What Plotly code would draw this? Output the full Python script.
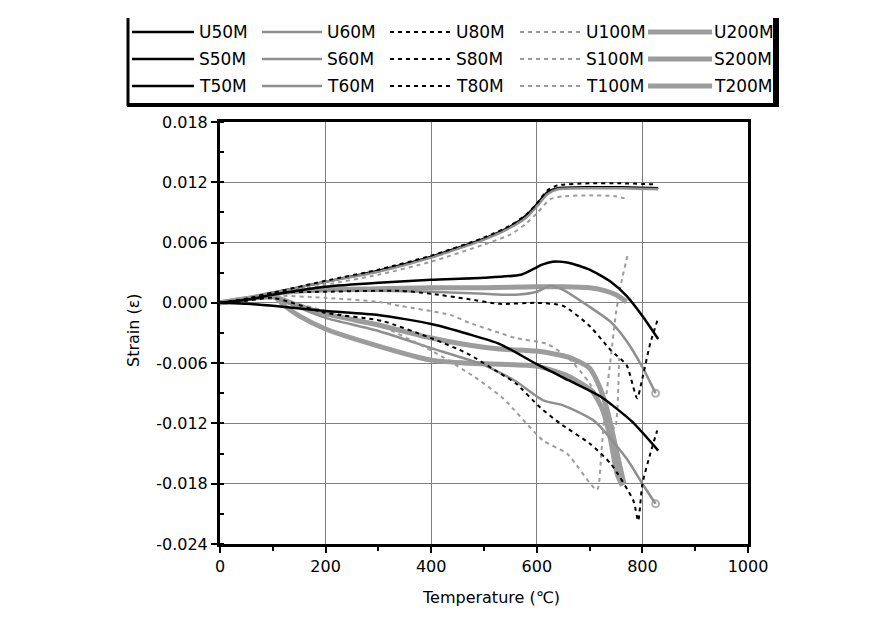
import plotly.graph_objects as go

# ---------------- data (temperature in degC, strain) ----------------
# "U" series
T_U50M = [0, 50, 100, 200, 300, 400, 500, 550, 580, 600, 620, 640, 700, 760, 830]
E_U50M = [0, 0.0004, 0.001, 0.0021, 0.0032, 0.0046, 0.0064, 0.0076, 0.0087, 0.0098, 0.0110, 0.0114, 0.0115, 0.0115, 0.0114]
T_U60M = [0, 50, 100, 200, 300, 400, 500, 550, 580, 600, 620, 640, 700, 760, 830]
E_U60M = [0, 0.0004, 0.001, 0.0021, 0.0031, 0.0045, 0.0063, 0.0075, 0.0085, 0.0096, 0.0108, 0.0113, 0.0114, 0.0114, 0.0113]
T_U80M = [0, 50, 100, 200, 300, 400, 500, 550, 580, 600, 620, 640, 700, 760, 820]
E_U80M = [0, 0.0004, 0.001, 0.0022, 0.0033, 0.0047, 0.0065, 0.0077, 0.0088, 0.0099, 0.0112, 0.0117, 0.0119, 0.0119, 0.0118]
T_U100M = [0, 50, 100, 200, 300, 400, 500, 550, 580, 600, 625, 650, 700, 750, 773]
E_U100M = [0, 0.0003, 0.0008, 0.0018, 0.0028, 0.0041, 0.0058, 0.0068, 0.0079, 0.0089, 0.0103, 0.0106, 0.0107, 0.0106, 0.0103]
T_U200M = [0, 50, 100, 200, 300, 400, 500, 600, 650, 700, 730, 750, 770]
E_U200M = [0, 0.0004, 0.0009, 0.0013, 0.0014, 0.0015, 0.0015, 0.0016, 0.0016, 0.0015, 0.0012, 0.0008, 0.0001]

# "S" series
T_S50M = [0, 50, 100, 200, 300, 400, 500, 570, 595, 610, 630, 660, 700, 740, 770, 800, 830]
E_S50M = [0, 0.0003, 0.0008, 0.0016, 0.002, 0.0023, 0.0025, 0.0028, 0.0034, 0.0038, 0.0041, 0.004, 0.0033, 0.0021, 0.0007, -0.0013, -0.0036]
T_S60M = [0, 50, 100, 200, 300, 400, 500, 560, 600, 625, 650, 700, 740, 770, 800, 825]
E_S60M = [0, 0.0004, 0.0009, 0.0012, 0.0012, 0.0011, 0.0009, 0.0008, 0.0011, 0.0017, 0.0013, -0.0004, -0.0019, -0.0038, -0.0064, -0.009]
T_S80M = [0, 50, 100, 200, 341, 400, 467, 530, 600, 650, 700, 740, 770, 790, 800, 815, 830]
E_S80M = [0, 0.0004, 0.001, 0.0011, 0.0012, 0.0009, 0.0004, -0.0001, 0.0, -0.0003, -0.0023, -0.0047, -0.0062, -0.0095, -0.0075, -0.004, -0.0015]
T_S100M = [0, 50, 100, 200, 300, 341, 436, 473, 530, 560, 620, 660, 700, 735, 748, 756]
E_S100M = [0, 0.0003, 0.0007, 0.0005, 0.0001, -0.0003, -0.0012, -0.002, -0.003, -0.0035, -0.0041, -0.0055, -0.008, -0.0115, -0.0125, -0.0055]
T_S200M = [0, 50, 100, 150, 200, 300, 400, 470, 530, 600, 660, 700, 720, 735, 750, 765]
E_S200M = [0, 0.0004, 0.0006, -0.0003, -0.0011, -0.0022, -0.0035, -0.0042, -0.0046, -0.0048, -0.0054, -0.0065, -0.0085, -0.011, -0.0145, -0.018]

# "T" series
T_T50M = [0, 50, 100, 200, 300, 400, 470, 530, 600, 660, 720, 780, 830]
E_T50M = [0, -0.0001, -0.0003, -0.0008, -0.0012, -0.0021, -0.0031, -0.0041, -0.0061, -0.0077, -0.0093, -0.0118, -0.0147]
T_T60M = [0, 50, 100, 150, 200, 300, 400, 500, 560, 612, 650, 710, 770, 800, 825]
E_T60M = [0, 0.0003, 0.0005, -0.0005, -0.0015, -0.0028, -0.0045, -0.0062, -0.0078, -0.0097, -0.0102, -0.0118, -0.0155, -0.018, -0.02]
T_T80M = [0, 50, 100, 200, 307, 404, 467, 530, 560, 606, 644, 700, 740, 783, 792, 800, 815, 828]
E_T80M = [0, 0.0002, 0.0005, -0.001, -0.0018, -0.0036, -0.005, -0.007, -0.008, -0.0104, -0.012, -0.014, -0.016, -0.0197, -0.0217, -0.018, -0.015, -0.0127]
T_T100M = [0, 50, 100, 200, 300, 402, 480, 536, 612, 657, 714, 722, 730, 740, 750, 760, 773]
E_T100M = [0, 0.0003, 0.0004, -0.0008, -0.0022, -0.0048, -0.0073, -0.0095, -0.0137, -0.015, -0.0186, -0.015, -0.010, -0.0055, -0.001, 0.002, 0.005]
T_T200M = [0, 50, 100, 125, 150, 200, 300, 400, 470, 530, 600, 660, 705, 725, 740, 752, 762]
E_T200M = [0, 0.0004, 0.0007, -0.0004, -0.0013, -0.0026, -0.0043, -0.0057, -0.006, -0.0061, -0.0063, -0.0073, -0.0088, -0.0107, -0.0137, -0.017, -0.0182]

X_TICKS = [0, 200, 400, 600, 800, 1000]
Y_TICKS = [-0.024, -0.018, -0.012, -0.006, 0.0, 0.006, 0.012, 0.018]
Y_LABELS = ["-0.024", "-0.018", "-0.012", "-0.006", "0.000", "0.006", "0.012", "0.018"]

SERIES = {
    "U50M": (T_U50M, E_U50M), "U60M": (T_U60M, E_U60M), "U80M": (T_U80M, E_U80M),
    "U100M": (T_U100M, E_U100M), "U200M": (T_U200M, E_U200M),
    "S50M": (T_S50M, E_S50M), "S60M": (T_S60M, E_S60M), "S80M": (T_S80M, E_S80M),
    "S100M": (T_S100M, E_S100M), "S200M": (T_S200M, E_S200M),
    "T50M": (T_T50M, E_T50M), "T60M": (T_T60M, E_T60M), "T80M": (T_T80M, E_T80M),
    "T100M": (T_T100M, E_T100M), "T200M": (T_T200M, E_T200M),
}

GRAY = "#8f8f8f"
LGRAY = "#9c9c9c"
STYLES = {
    "50M": dict(color="black", width=2.5, dash="solid"),
    "60M": dict(color=GRAY, width=2.5, dash="solid"),
    "80M": dict(color="black", width=2, dash="4px,4px"),
    "100M": dict(color=LGRAY, width=2, dash="4px,4px"),
    "200M": dict(color=LGRAY, width=5, dash="solid"),
}

def style_of(name):
    return STYLES[name[1:]]

FONT = "DejaVu Sans"
fig = go.Figure()

draw_order = ["U50M", "U200M", "S200M", "T200M", "U60M", "S60M", "T60M",
              "U100M", "S100M", "T100M", "U80M", "S80M", "T80M", "S50M", "T50M"]
for name in draw_order:
    t, e = SERIES[name]
    st = dict(style_of(name), shape="spline", smoothing=0.6)
    if name in ("S60M", "T60M"):
        sizes = [0] * (len(t) - 1) + [7]
        kw = dict(mode="lines+markers",
                  marker=dict(symbol="circle-open", size=sizes, color=GRAY, line=dict(width=2, color=GRAY)))
    else:
        kw = dict(mode="lines")
    fig.add_trace(go.Scatter(x=t, y=e, name=name, line=st, showlegend=False, **kw))

# ---------------- layout ----------------
# page body has an 8px margin, so figure coordinates = screen - 8
OFF = 8
FW, FH = 892 - OFF, 619 - OFF
PL, PR, PT, PB = 220 - OFF, 748 - OFF, 122 - OFF, 544 - OFF
def px(x):
    return (x - OFF - PL) / (PR - PL)
def py(y):
    return (PB - (y - OFF)) / (PB - PT)

axis_common = dict(
    showline=True, linecolor="black", linewidth=3, mirror=True,
    ticks="outside", ticklen=6, tickwidth=2, tickcolor="black",
    showgrid=True, gridcolor="#808080", gridwidth=1, zeroline=False,
    tickfont=dict(family=FONT, size=16, color="black"),
)
fig.update_layout(
    width=FW, height=FH,
    margin=dict(l=PL, r=FW - PR, t=PT, b=FH - PB),
    plot_bgcolor="white", paper_bgcolor="white", showlegend=False,
    font=dict(family=FONT, size=16, color="black"),
    xaxis=dict(range=[0, 1000], tickvals=X_TICKS, ticktext=[str(v) for v in X_TICKS],
               minor=dict(dtick=100, ticks="outside", ticklen=4, tickcolor="black", showgrid=False),
               **axis_common),
    yaxis=dict(range=[-0.024, 0.018], tickvals=Y_TICKS, ticktext=Y_LABELS,
               minor=dict(dtick=0.003, ticks="inside", ticklen=4, tickcolor="black", showgrid=False),
               **axis_common),
)

annotations = [
    dict(x=px(491), y=py(597), xref="paper", yref="paper", text="Temperature (\u2103)",
         showarrow=False, xanchor="center", yanchor="middle", font=dict(family=FONT, size=16, color="black")),
    dict(x=px(133), y=py(330), xref="paper", yref="paper", text="Strain (\u03b5)", textangle=-90,
         showarrow=False, xanchor="center", yanchor="middle", font=dict(family=FONT, size=16, color="black")),
]
shapes = []

# manual legend (5 columns x 3 rows)
rows = [("U", 32), ("S", 59), ("T", 86)]
cols = [("50M", 132, 194, 197), ("60M", 262, 322, 325), ("80M", 390, 450, 454),
        ("100M", 520, 580, 584), ("200M", 648, 712, 712)]
for prefix, yy in rows:
    for suffix, x0, x1, xt in cols:
        st = STYLES[suffix]
        shapes.append(dict(type="line", xref="paper", yref="paper",
                           x0=px(x0), x1=px(x1), y0=py(yy), y1=py(yy),
                           line=dict(color=st["color"], width=st["width"], dash=st["dash"])))
        annotations.append(dict(x=px(xt), y=py(yy), xref="paper", yref="paper",
                                text=prefix + suffix, showarrow=False, xanchor="left",
                                yanchor="middle", font=dict(family=FONT, size=17, color="black")))
# legend frame (left, bottom, right edges)
shapes.append(dict(type="line", xref="paper", yref="paper", x0=px(128), x1=px(128),
                   y0=py(18), y1=py(106), line=dict(color="black", width=3)))
shapes.append(dict(type="line", xref="paper", yref="paper", x0=px(127), x1=px(779),
                   y0=py(105), y1=py(105), line=dict(color="black", width=4)))
shapes.append(dict(type="line", xref="paper", yref="paper", x0=px(776), x1=px(776),
                   y0=py(18), y1=py(107), line=dict(color="black", width=6)))

fig.update_layout(annotations=annotations, shapes=shapes)
fig.write_html("out.html")
